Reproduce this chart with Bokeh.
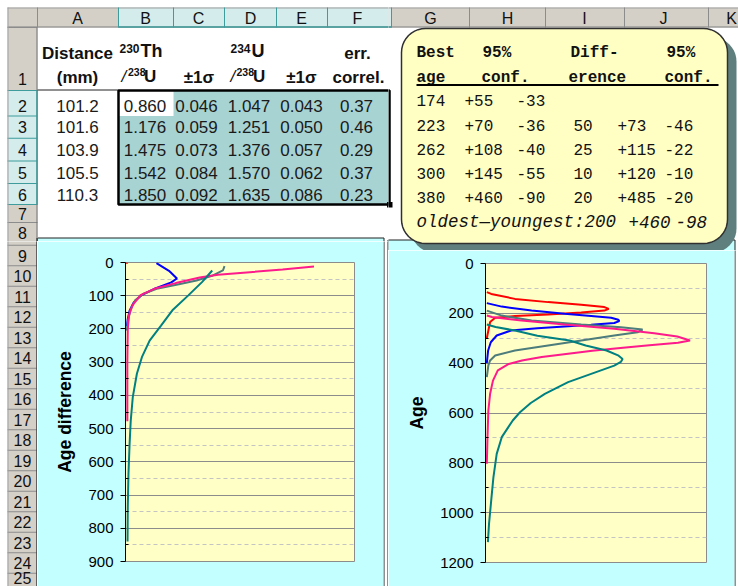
import math
from bokeh.plotting import figure
from bokeh.layouts import row, column
from bokeh.models import Range1d, FixedTicker
from bokeh.embed import file_html
from bokeh.resources import INLINE
from bokeh.core.properties import value

# ---------------- data ----------------
distance_mm = [101.2, 101.6, 103.9, 105.5, 110.3]
th230_u238 = [0.860, 1.176, 1.475, 1.542, 1.850]
th_err = [0.046, 0.059, 0.073, 0.084, 0.092]
u234_u238 = [1.047, 1.251, 1.376, 1.570, 1.635]
u_err = [0.043, 0.050, 0.057, 0.062, 0.086]
err_correl = [0.37, 0.46, 0.29, 0.37, 0.23]

best_age = [174, 223, 262, 300, 380]
age_plus = [55, 70, 108, 145, 460]
age_minus = [33, 36, 40, 55, 90]
diff_best = [None, 50, 25, 10, 20]
diff_plus = [None, 73, 115, 120, 485]
diff_minus = [None, 46, 22, 10, 20]
oldest_youngest = "oldest\u2014youngest:200"
oldest_youngest_plus = "+460"
oldest_youngest_minus = "-98"

col_letters = ["A", "B", "C", "D", "E", "F", "G", "H", "I", "J", "K"]
row_numbers = [str(i) for i in range(1, 26)]

# relative probability (fraction of plot width) vs age, right chart
age_red_x = [0, 0.02, 0.128, 0.279, 0.43, 0.535, 0.555, 0.535, 0.43, 0.279, 0.128, 0.038, 0.015, 0.007, 0]
age_red_y = [115, 122, 142, 155, 166, 175, 182, 189, 197, 205, 211, 218, 235, 269, 300]
age_blue_x = [0, 0.068, 0.204, 0.354, 0.475, 0.566, 0.599, 0.603, 0.58, 0.475, 0.354, 0.23, 0.11, 0.045, 0.018, 0.006, 0]
age_blue_y = [159, 173, 189, 202, 211, 218, 226, 231, 239, 246, 253, 260, 269, 289, 316, 349, 400]
age_gray_x = [0, 0.068, 0.204, 0.43, 0.611, 0.709, 0.686, 0.58, 0.43, 0.279, 0.128, 0.038, 0.015, 0.007, 0]
age_gray_y = [189, 209, 229, 245, 256, 265, 276, 289, 309, 329, 349, 369, 389, 409, 456]
age_pink_x = [0, 0.023, 0.158, 0.354, 0.58, 0.762, 0.867, 0.925, 0.87, 0.74, 0.62, 0.48, 0.37, 0.25, 0.16, 0.10, 0.05, 0.028, 0.015, 0.007, 0.003, 0]
age_pink_y = [209, 215, 229, 245, 262, 280, 293, 309, 318, 328, 338, 350, 362, 375, 389, 403, 429, 470, 523, 590, 700, 804]
age_teal_x = [0, 0.04, 0.128, 0.23, 0.377, 0.45, 0.545, 0.6, 0.618, 0.61, 0.58, 0.475, 0.37, 0.264, 0.2, 0.151, 0.118, 0.068, 0.045, 0.03, 0.02, 0.01, 0.005]
age_teal_y = [245, 255, 269, 290, 309, 329, 349, 370, 383, 395, 410, 443, 476, 523, 560, 597, 630, 697, 764, 858, 951, 1045, 1118]

# relative probability vs age difference, left chart
dif_red_x = [0, 0]
dif_red_y = [0, 4]
dif_blue_x = [0.13, 0.185, 0.22, 0.195, 0.125, 0.065, 0.03, 0.012, 0.004, 0]
dif_blue_y = [2, 25, 48, 60, 78, 98, 120, 145, 170, 192]
dif_gray_x = [0.429, 0.422, 0.378, 0.306, 0.218, 0.131, 0.073, 0.036, 0.015, 0.004, 0]
dif_gray_y = [11, 24, 39, 54, 67, 79, 94, 114, 144, 180, 205]
dif_pink_x = [0.822, 0.684, 0.54, 0.40, 0.32, 0.215, 0.125, 0.06, 0.025, 0.009, 0.004, 0.002, 0.002, 0.002]
dif_pink_y = [12, 21, 29, 37, 45, 62, 78, 98, 128, 160, 200, 300, 400, 478]
dif_teal_x = [0.375, 0.33, 0.27, 0.2, 0.15, 0.1, 0.066, 0.044, 0.026, 0.017, 0.012, 0.007, 0.004, 0.003]
dif_teal_y = [24, 59, 99, 144, 190, 235, 285, 335, 405, 476, 546, 636, 737, 840]

diff_major = [0, 100, 200, 300, 400, 500, 600, 700, 800, 900]
diff_minor = [50, 150, 250, 350, 450, 550, 650, 750, 850]
age_major = [0, 200, 400, 600, 800, 1000, 1200]
age_minor = [100, 300, 500, 700, 900, 1100]

# ---------------- styling ----------------
def fsz(s): return value(f"{s:.1f}px")

HDR = "#D4D0C8"; HDR_HI = "#D4ECEC"; HDR_LN = "#8C8C8C"; HI_LN = "#3E9C9C"
SEL = "#A8D3D3"; CYAN = "#C4FFFF"; YEL = "#FFFFC6"; BOXC = "#FFFFC4"; SHADOW = "#5F7F7F"
SANS = "Liberation Sans"; MONO = "Liberation Mono"; INK = "#111111"
C_RED = "#FF0000"; C_BLUE = "#0000FF"; C_GRAY = "#4C7C7C"; C_PINK = "#FF1A8C"; C_TEAL = "#008080"

col_edges = [37, 118, 173, 224, 276, 327, 391, 469, 545, 624, 708]
col_label_x = [77, 145, 198, 250, 301, 357, 430, 507, 584, 663, 731]
row_edges = [27, 90, 115.5, 137.75, 160.5, 183, 204, 222, 244.75] + [244.75 + 20.5 * k for k in range(1, 18)]
row_label_y = [78, 105, 126.5, 149, 172, 194, 213, 232] + [255 + 20.5 * k for k in range(16)] + [577]
table_x = [77, 144.5, 196, 248.5, 301, 356]
table_y = [105, 126.5, 149, 172, 194]


def no_align(p):
    if "frame_align" in p.properties():
        p.frame_align = False


def T(p, xs, ys, texts, size, align="center", style="normal", font=SANS, color=INK):
    x0, x1, y0, y1 = p.tags[0]
    keep = [(x, y, t) for x, y, t in zip(xs, ys, texts) if x0 <= x < x1 and y0 <= y < y1]
    if not keep:
        return
    p.text(x=[k[0] for k in keep], y=[k[1] for k in keep], text=[k[2] for k in keep],
           text_font=value(font), text_font_size=fsz(size),
           text_align=align, text_baseline="middle", text_font_style=style, text_color=color)


def rounded(x0, y0, x1, y1, r, n=10):
    xs, ys = [], []
    for cx, cy, a0 in [(x1 - r, y0 + r, -90), (x1 - r, y1 - r, 0), (x0 + r, y1 - r, 90), (x0 + r, y0 + r, 180)]:
        for k in range(n + 1):
            a = math.radians(a0 + 90 * k / n)
            xs.append(cx + r * math.cos(a)); ys.append(cy + r * math.sin(a))
    return xs, ys


def draw_sheet(p):
    # chart backgrounds (cyan areas)
    p.quad(left=[37], right=[383.5], top=[237.5], bottom=[700], fill_color=CYAN, line_color="#222222", line_width=1)
    p.quad(left=[387.5], right=[734.5], top=[239.5], bottom=[700], fill_color=CYAN, line_color="#222222", line_width=1)
    # column header
    p.quad(left=[7], right=[800], top=[7], bottom=[27], fill_color=HDR, line_color=None)
    p.quad(left=[118], right=[391], top=[7], bottom=[27], fill_color=HDR_HI, line_color=None)
    p.segment(x0=[7], y0=[7.5], x1=[800], y1=[7.5], line_color="#A0A0A0")
    p.segment(x0=[7, 118], y0=[26.5, 26.5], x1=[800, 391], y1=[26.5, 26.5], line_color=["#808080", HI_LN], line_width=[1, 1.5])
    ce = col_edges
    p.segment(x0=ce, y0=[7] * len(ce), x1=ce, y1=[27] * len(ce),
              line_color=[HI_LN if 118 <= b <= 391 else HDR_LN for b in ce])
    T(p, col_label_x, [17.5] * len(col_label_x), col_letters, 16)
    # row header
    p.quad(left=[7], right=[37], top=[27], bottom=[700], fill_color=HDR, line_color=None)
    p.quad(left=[7], right=[37], top=[90], bottom=[204], fill_color=HDR_HI, line_color=None)
    re = row_edges
    p.segment(x0=[7] * len(re), y0=re, x1=[37] * len(re), y1=re,
              line_color=[HI_LN if 90 <= b <= 204 else HDR_LN for b in re])
    p.segment(x0=[7.5, 36.5], y0=[7, 27], x1=[7.5, 36.5], y1=[700, 700], line_color=["#A0A0A0", "#707070"])
    p.segment(x0=[36.5], y0=[90], x1=[36.5], y1=[204], line_color=HI_LN, line_width=1.5)
    p.segment(x0=[36.5], y0=[237.5], x1=[36.5], y1=[700], line_color="#222222")
    T(p, [22] * len(row_numbers), row_label_y, row_numbers, 16)
    # border under A1
    p.segment(x0=[37], y0=[89.5], x1=[118], y1=[89.5], line_color="#222222")
    # selected block
    p.quad(left=[118], right=[389], top=[90], bottom=[204], fill_color=SEL, line_color=None)
    p.quad(left=[118], right=[173], top=[90], bottom=[115.5], fill_color="white", line_color=None)
    p.quad(left=[118], right=[389], top=[90], bottom=[204], fill_color=None, line_color="black", line_width=2.5)
    p.quad(left=[386.5], right=[392], top=[201.5], bottom=[207], fill_color="black", line_color=None)
    # header row texts
    T(p, [77, 357], [52.5, 52.5], ["Distance", "err."], 17, style="bold")
    T(p, [77, 198.5, 301, 358], [76.5] * 4, ["(mm)", "\u00b11\u03c3", "\u00b11\u03c3", "correl."], 17, style="bold")
    T(p, [119, 230], [47.5, 47.5], ["230", "234"], 12, align="left", style="bold")
    T(p, [140, 251], [50.5, 50.5], ["Th", "U"], 18, align="left", style="bold")
    T(p, [121, 230], [76, 76], ["/", "/"], 17, align="left", style="italic")
    T(p, [127.5, 236], [71.5, 71.5], ["238", "238"], 10.5, align="left", style="bold")
    T(p, [143.5, 252.5], [76, 76], ["U", "U"], 17, align="left", style="bold")
    # table values
    cols = [[f"{v:.1f}" for v in distance_mm], [f"{v:.3f}" for v in th230_u238], [f"{v:.3f}" for v in th_err],
            [f"{v:.3f}" for v in u234_u238], [f"{v:.3f}" for v in u_err], [f"{v:.2f}" for v in err_correl]]
    for cx, vals in zip(table_x, cols):
        T(p, [cx] * len(vals), table_y, vals, 17, color="#1A1A1A")
    # callout box
    sx, sy = rounded(410, 37, 736, 252, 24)
    p.patch(sx, sy, fill_color=SHADOW, line_color=None)
    bx, by = rounded(401, 28, 727, 243, 24)
    p.patch(bx, by, fill_color=BOXC, line_color="#303030", line_width=1.5)
    T(p, [416, 482, 570, 666], [52] * 4, ["Best", "95%", "Diff-", "95%"], 16, align="left", style="bold", font=MONO)
    T(p, [416, 481, 568, 664], [77] * 4, ["age", "conf.", "erence", "conf."], 16, align="left", style="bold", font=MONO)
    p.segment(x0=[416], y0=[84.5], x1=[718], y1=[84.5], line_color="black", line_width=2)
    ys = [100, 125, 149, 173, 197]
    T(p, [416] * 5, ys, [str(a) for a in best_age], 16, align="left", font=MONO)
    T(p, [464] * 5, ys, [f"+{a}" for a in age_plus], 16, align="left", font=MONO)
    T(p, [516] * 5, ys, [f"-{a}" for a in age_minus], 16, align="left", font=MONO)
    dy = [y for y, d in zip(ys, diff_best) if d is not None]
    T(p, [573] * len(dy), dy, [str(d) for d in diff_best if d is not None], 16, align="left", font=MONO)
    T(p, [617] * len(dy), dy, [f"+{d}" for d in diff_plus if d is not None], 16, align="left", font=MONO)
    T(p, [664] * len(dy), dy, [f"-{d}" for d in diff_minus if d is not None], 16, align="left", font=MONO)
    T(p, [416, 628, 675], [221] * 3, [oldest_youngest, oldest_youngest_plus, oldest_youngest_minus], 17.5,
      align="left", style="italic", font=MONO)


def sheet(x0, x1, y0, y1):
    p = figure(width=x1 - x0, height=y1 - y0, x_range=Range1d(x0, x1), y_range=Range1d(y1, y0),
               x_axis_location=None, y_axis_location=None, output_backend="svg", toolbar_location=None, min_border=0)
    no_align(p)
    p.tags = [(x0, x1, y0, y1)]
    p.grid.visible = False
    p.outline_line_color = None
    p.background_fill_color = "white"
    p.border_fill_color = "white"
    draw_sheet(p)
    return p


def chart(x0, x1, y0, y1, fx0, fx1, fy0, fy1, ymax, major, minor, label, series):
    p = figure(width=x1 - x0, height=y1 - y0, x_range=Range1d(-0.006, 1), y_range=Range1d(ymax, 0),
               x_axis_location=None, y_axis_location="left", output_backend="svg", toolbar_location=None,
               min_border_left=fx0 - x0, min_border_right=x1 - fx1,
               min_border_top=fy0 - y0, min_border_bottom=y1 - fy1)
    no_align(p)
    p.background_fill_color = YEL
    p.border_fill_color = CYAN
    p.outline_line_color = "#8C8C8C"
    ax = p.yaxis[0]
    ax.ticker = FixedTicker(ticks=major, minor_ticks=minor)
    ax.axis_label = label
    ax.axis_label_text_font = SANS
    ax.axis_label_text_font_style = "bold"
    ax.axis_label_text_font_size = "17.5px"
    ax.axis_label_text_color = "black"
    ax.axis_label_standoff = 10
    ax.major_label_text_font = SANS
    ax.major_label_text_font_size = "15px"
    ax.major_label_text_color = "black"
    ax.major_label_standoff = 7
    ax.axis_line_color = "black"
    ax.major_tick_line_color = "black"
    ax.major_tick_out = 5
    ax.major_tick_in = 0
    ax.minor_tick_line_color = "black"
    ax.minor_tick_in = 3
    ax.minor_tick_out = 0
    p.xgrid.visible = False
    p.ygrid.grid_line_color = "#8C8C8C"
    p.ygrid.minor_grid_line_color = "#C4C4C4"
    p.ygrid.minor_grid_line_dash = "4 3"
    for xs, ys, c in series:
        p.line(x=xs, y=ys, line_color=c, line_width=2)
    return p


left_series = [(dif_red_x, dif_red_y, C_RED), (dif_blue_x, dif_blue_y, C_BLUE), (dif_gray_x, dif_gray_y, C_GRAY),
               (dif_pink_x, dif_pink_y, C_PINK), (dif_teal_x, dif_teal_y, C_TEAL)]
right_series = [(age_red_x, age_red_y, C_RED), (age_blue_x, age_blue_y, C_BLUE), (age_gray_x, age_gray_y, C_GRAY),
                (age_pink_x, age_pink_y, C_PINK), (age_teal_x, age_teal_y, C_TEAL)]

top_left = sheet(0, 388, 0, 241)
row_hdr = sheet(0, 37, 241, 586)
left_chart = chart(37, 383, 241, 586, 125, 354, 262, 561, 900, diff_major, diff_minor, "Age difference", left_series)
gap = sheet(383, 388, 241, 586)
top_right = sheet(388, 738, 0, 250)
right_chart = chart(388, 734, 250, 586, 485, 706, 263, 562, 1200, age_major, age_minor, "Age", right_series)
strip = sheet(734, 738, 250, 586)

layout = row(column(top_left, row(row_hdr, left_chart, gap)), column(top_right, row(right_chart, strip)))

open("out.html", "w").write(file_html(layout, INLINE))
